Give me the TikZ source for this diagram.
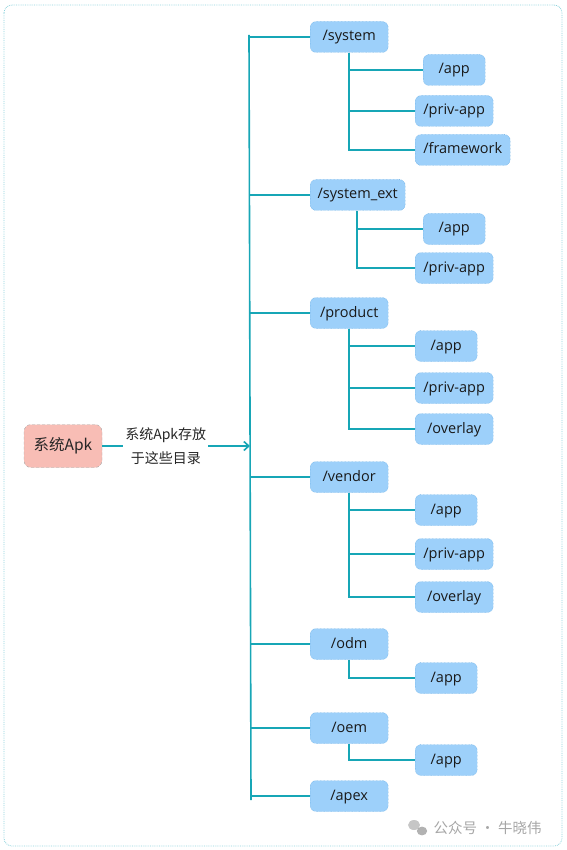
\documentclass[tikz,border=0pt]{standalone}
\usepackage{fontspec}
\setmainfont{Open Sans}
\newfontfamily\cjk{Noto Sans CJK SC}
\usetikzlibrary{arrows.meta}
\definecolor{lnk}{HTML}{17A6B6}
\definecolor{nfill}{HTML}{9DD0FA}
\definecolor{nbord}{HTML}{4A9AD8}
\definecolor{pfill}{HTML}{F8BDB5}
\definecolor{frm}{HTML}{8ED3DC}
\tikzset{
  dirbox/.style={draw=nbord, densely dotted, fill=nfill, rounded corners=6pt, minimum height=31pt, inner xsep=4pt, text height=10.5pt, text depth=2.5pt, anchor=west, font=\fontsize{14.5}{16}\selectfont, text=black!90},
  conn/.style={draw=lnk, line width=1.6pt},
}
\begin{document}
\begin{tikzpicture}[x=1pt,y=-1pt]
\useasboundingbox (0,0) rectangle (566,850);
\draw[frm, densely dotted, rounded corners=8pt, line width=0.8pt] (4,5) rectangle (562,846);

% left node
\node[draw=gray!70, densely dashed, fill=pfill, rounded corners=7pt, minimum width=78pt, minimum height=43pt, font=\cjk\fontsize{15.5}{17}\selectfont, text=black!85] (apk) at (63,446) {系统Apk};
\coordinate (tt) at (249,35);
\coordinate (tb) at (251,800);
\coordinate (ta) at (250,446);
\draw[conn, -{Straight Barb[length=5pt,width=9pt]}] (apk) -- (ta) node[pos=0.43, fill=white, align=center, font=\cjk\fontsize{14}{24}\selectfont, text=black!85, inner xsep=2pt] {系统Apk存放\\于这些目录};
\draw[conn] (tt) -- (tb);

% level 1
\node[dirbox, minimum width=78pt] (sys) at (310,37) {/system};
\node[dirbox, minimum width=95pt] (ext) at (310,195) {/system\_ext};
\node[dirbox, minimum width=78pt] (prod) at (310,313) {/product};
\node[dirbox, minimum width=78pt] (ven) at (310,477) {/vendor};
\node[dirbox, minimum width=78pt] (odm) at (310,644) {/odm};
\node[dirbox, minimum width=78pt] (oem) at (310,728) {/oem};
\node[dirbox, minimum width=78pt] (apex) at (310,796) {/apex};

\foreach \n/\y in {sys/37,ext/195,prod/313,ven/477,odm/644,oem/728,apex/796}
  \draw[conn] (250,\y) -- (\n.west);

% level 2
\node[dirbox, minimum width=62pt] (s1) at (423,70) {/app};
\node[dirbox, minimum width=78pt] (s2) at (415,111) {/priv-app};
\node[dirbox, minimum width=95pt] (s3) at (415,150) {/framework};
\node[dirbox, minimum width=62pt] (e1) at (423,229) {/app};
\node[dirbox, minimum width=78pt] (e2) at (415,268) {/priv-app};
\node[dirbox, minimum width=62pt] (p1) at (415,346) {/app};
\node[dirbox, minimum width=78pt] (p2) at (415,388) {/priv-app};
\node[dirbox, minimum width=78pt] (p3) at (415,429) {/overlay};
\node[dirbox, minimum width=62pt] (v1) at (415,510) {/app};
\node[dirbox, minimum width=78pt] (v2) at (415,554) {/priv-app};
\node[dirbox, minimum width=78pt] (v3) at (415,597) {/overlay};
\node[dirbox, minimum width=62pt] (d1) at (415,678) {/app};
\node[dirbox, minimum width=62pt] (o1) at (415,760) {/app};

\foreach \p/\c/\x in {sys/s1/349,sys/s2/349,sys/s3/349,ext/e1/357,ext/e2/357,prod/p1/349,prod/p2/349,prod/p3/349,ven/v1/349,ven/v2/349,ven/v3/349,odm/d1/349,oem/o1/349}
  \draw[conn] (\x,0 |- \p.south) -- (\x,0 |- \c.west) -- (\c.west);

% watermark
\fill[gray!45] (414,825) ellipse (6pt and 5pt);
\fill[gray!60] (422,831) ellipse (5.2pt and 4.4pt);
\node[anchor=west, font=\cjk\fontsize{14.5}{16}\selectfont, text=gray!70] (wm) at (430,828) {公众号 · 牛晓伟};
\end{tikzpicture}
\end{document}
